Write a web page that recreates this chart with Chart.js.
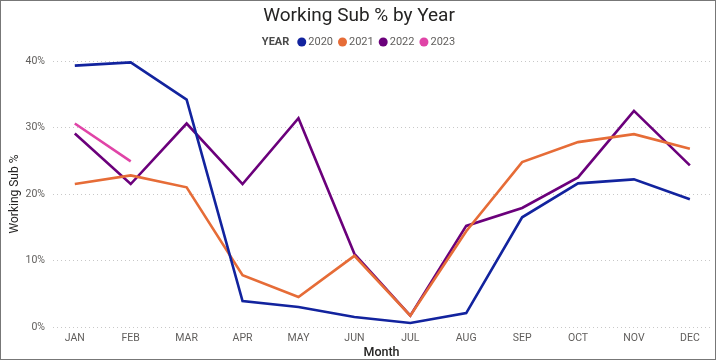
<!DOCTYPE html>
<html>
<head>
<meta charset="utf-8">
<script src="https://cdn.jsdelivr.net/npm/chart.js@4"></script>
<style>
  body { margin: 0; background: #fff; }
  #wrap { width: 714px; height: 358px; border: 1px solid #777; position: relative; }
</style>
</head>
<body>
<div id="wrap"><canvas id="chart" width="714" height="358"></canvas></div>
<script>
//Months on the x axis and one value list per year (percent).
const months = ['JAN','FEB','MAR','APR','MAY','JUN','JUL','AUG','SEP','OCT','NOV','DEC'];
const years = ['2020','2021','2022','2023'];
const y2020 = [39.3, 39.8, 34.2, 3.9, 3.0, 1.5, 0.6, 2.1, 16.5, 21.6, 22.2, 19.2];
const y2021 = [21.5, 22.8, 21.0, 7.8, 4.5, 10.7, 1.7, 14.4, 24.8, 27.8, 29.0, 26.8];
const y2022 = [29.1, 21.5, 30.6, 21.5, 31.4, 11.0, 1.7, 15.2, 17.9, 22.5, 32.5, 24.3];
const y2023 = [30.6, 24.9];
const yTicks = [0, 10, 20, 30, 40];
const colors = ['#12239E', '#E66C37', '#6B007B', '#E044A7'];

const font = 'Roboto, "Segoe UI", sans-serif';

//Turn a value list into x/y points so the x scale can be a linear one.
function toPoints(vals) {
    return vals.map((v, i) => ({ x: i, y: v }));
}

//Draws the chart title and the "YEAR" legend row above the plot.
const headerPlugin = {
    id: 'header',
    afterDraw(chart) {
        const ctx = chart.ctx;
        ctx.save();
        ctx.textBaseline = 'middle';
        ctx.textAlign = 'center';
        ctx.fillStyle = '#252423';
        ctx.font = '19px ' + font;
        ctx.fillText('Working Sub % by Year', 358, 15);

        //Legend: measure everything first so the row is centred.
        ctx.textAlign = 'left';
        const boldFont = 'bold 11px ' + font;
        const itemFont = '11px ' + font;
        ctx.font = boldFont;
        const headW = ctx.measureText('YEAR').width;
        ctx.font = itemFont;
        let total = headW + 8;
        years.forEach(y => { total += 11 + ctx.measureText(y).width + 5; });
        let x = 360 - total / 2;
        const cy = 41;
        ctx.font = boldFont;
        ctx.fillStyle = '#4a4a4a';
        ctx.fillText('YEAR', x, cy);
        x += headW + 8;
        ctx.font = itemFont;
        years.forEach((y, i) => {
            ctx.beginPath();
            ctx.arc(x + 4.5, cy, 4.5, 0, Math.PI * 2);
            ctx.fillStyle = colors[i];
            ctx.fill();
            ctx.fillStyle = '#605E5C';
            ctx.fillText(y, x + 11, cy);
            x += 11 + ctx.measureText(y).width + 5;
        });
        ctx.restore();
    }
};

const seriesList = [y2020, y2021, y2022, y2023];

const chart = new Chart(document.getElementById('chart').getContext('2d'), {
    type: 'line',
    data: {
        datasets: seriesList.map((vals, i) => ({
            label: years[i],
            data: toPoints(vals),
            borderColor: colors[i],
            backgroundColor: colors[i],
            borderWidth: 2.6,
            pointRadius: 0,
            tension: 0,
            clip: false
        }))
    },
    options: {
        responsive: false,
        animation: false,
        layout: { padding: { top: 60, right: 5, left: 0, bottom: 0 } },
        plugins: {
            legend: { display: false },
            title: { display: false },
            tooltip: { enabled: false }
        },
        scales: {
            x: {
                type: 'linear',
                min: -0.39,
                max: 11.36,
                afterBuildTicks(scale) {
                    scale.ticks = months.map((m, i) => ({ value: i }));
                },
                afterFit(scale) { scale.height = 32; },
                grid: { display: false, drawTicks: false },
                border: { display: false },
                ticks: {
                    autoSkip: false,
                    maxRotation: 0,
                    padding: 5,
                    color: '#605E5C',
                    font: { family: font, size: 10.5 },
                    callback: v => months[v]
                },
                title: {
                    display: true,
                    text: 'Month',
                    color: '#252423',
                    padding: { top: 0, bottom: 0 },
                    font: { family: font, size: 12.5, weight: '500', lineHeight: 1 }
                }
            },
            y: {
                min: 0,
                max: 40,
                afterBuildTicks(scale) {
                    scale.ticks = yTicks.map(v => ({ value: v }));
                },
                afterFit(scale) { scale.width = 52; },
                border: { display: false, dash: [1, 3] },
                grid: {
                    color: '#c8c8c8',
                    lineWidth: 1,
                    drawTicks: false
                },
                ticks: {
                    padding: 8,
                    color: '#605E5C',
                    font: { family: font, size: 10.5 },
                    callback: v => v + '%'
                },
                title: {
                    display: true,
                    text: 'Working Sub %',
                    color: '#252423',
                    padding: { top: 7, bottom: 0 },
                    font: { family: font, size: 12 }
                }
            }
        }
    },
    plugins: [headerPlugin]
});
</script>
</body>
</html>
